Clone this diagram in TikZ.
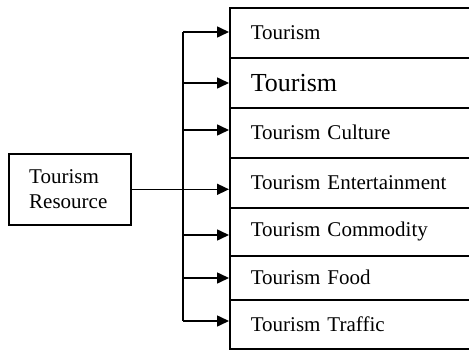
\documentclass[tikz,border=0pt]{standalone}
\usepackage{fontspec}
\setmainfont{Liberation Serif}
\usetikzlibrary{arrows.meta}
\tikzset{
  rbox/.style={draw, line width=1.6pt, anchor=north west, inner xsep=21pt, inner ysep=0pt,
    text width=230pt, align=left, font=\fontsize{21}{25}\selectfont},
  lbox/.style={draw, line width=1.6pt, anchor=north west, minimum width=122pt, minimum height=71pt},
  conn/.style={line width=1.6pt},
  arr/.style={conn, -{Triangle[length=12pt,width=11pt]}}
}
\begin{document}
\begin{tikzpicture}[x=1pt,y=-1pt]
\clip (0,0) rectangle (469,351);
\node[rbox, minimum height=50pt] (b1) at (229,7) {Tourism};
\node[rbox, minimum height=50pt, font=\fontsize{26}{30}\selectfont] (b2) at (229,57) {Tourism};
\node[rbox, minimum height=50pt] (b3) at (229,107) {Tourism Culture};
\node[rbox, minimum height=50pt] (b4) at (229,157) {Tourism Entertainment};
\node[rbox, minimum height=48pt] (b5) at (229,207) {Tourism Commodity};
\node[rbox, minimum height=44pt] (b6) at (229,255) {Tourism Food};
\node[rbox, minimum height=49pt] (b7) at (229,299) {Tourism Traffic};
\node[lbox] (res) at (8,153) {};
\node[anchor=west, align=left, inner sep=0pt, font=\fontsize{21}{25}\selectfont] (restext) at (29,189) {Tourism\\Resource};
\coordinate (bus) at (183,0);
\coordinate (a1) at (229,32);
\coordinate (a2) at (229,83);
\coordinate (a3) at (229,130);
\coordinate (a5) at (229,235);
\coordinate (a6) at (229,278);
\coordinate (a7) at (229,321);
\draw[conn] (a1 -| bus) -- (a7 -| bus);
\draw[arr] (res.east) -- (res.east -| b4.west);
\foreach \a in {a1,a2,a3,a5,a6,a7}{
  \draw[arr] (\a -| bus) -- (\a);
}
\end{tikzpicture}
\end{document}
